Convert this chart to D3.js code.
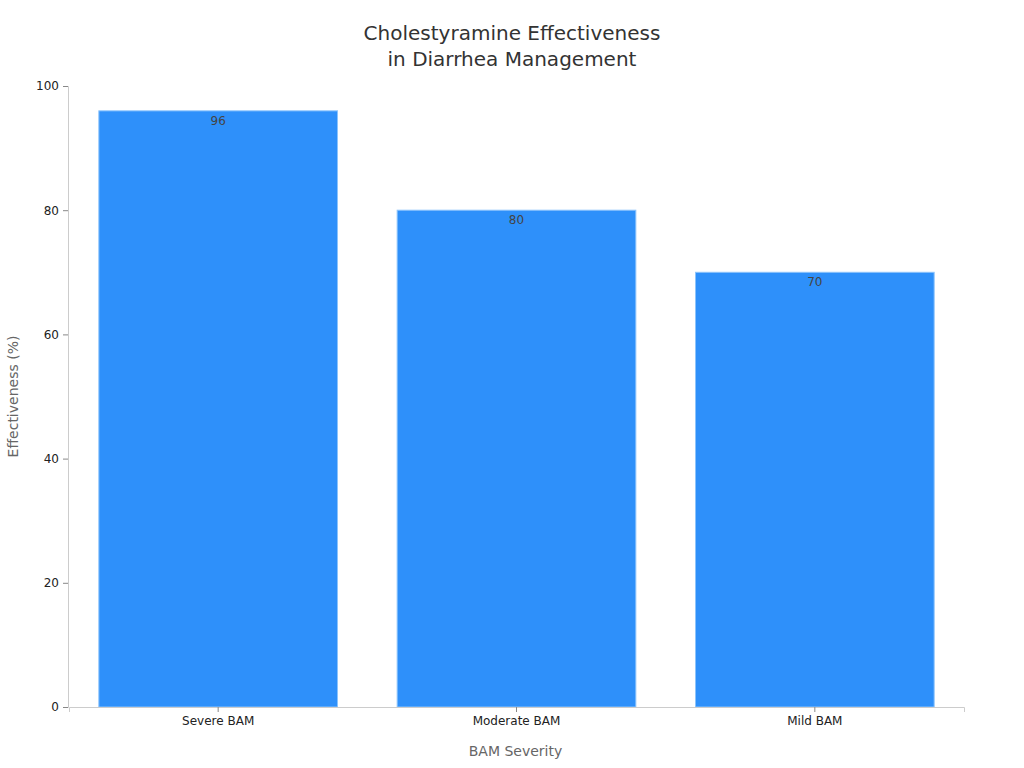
<!DOCTYPE html>
<html><head><meta charset="utf-8">
<script src="https://cdn.jsdelivr.net/npm/d3@7/dist/d3.min.js"></script>
<style>body{margin:0;background:#fff;font-family:"DejaVu Sans",sans-serif;}</style>
</head><body><svg id="c" width="1024" height="768"></svg>
<script>
const categories = ["Severe BAM", "Moderate BAM", "Mild BAM"];
const values = [96, 80, 70];
const yTicks = [0, 20, 40, 60, 80, 100];
const titleLines = ["Cholestyramine Effectiveness", "in Diarrhea Management"];
const xTitle = "BAM Severity";
const yTitle = "Effectiveness (%)";

const svg = d3.select("#c");
const m = {l: 68, r: 61, t: 86, b: 61};
const W = 1024, H = 768;
const x = d3.scaleBand().domain(categories).range([m.l + 1, W - m.r + 1]).paddingInner(0.2).paddingOuter(0.1);
const y = d3.scaleLinear().domain([0, 100]).range([H - m.b, m.t]);

svg.append("g").selectAll("text").data(titleLines).join("text")
  .attr("x", 512).attr("y", (d, i) => 40 + i * 26).attr("text-anchor", "middle")
  .attr("font-size", 20).attr("fill", "#333").text(d => d);

svg.append("g").selectAll("rect").data(values).join("rect")
  .attr("x", (d, i) => x(categories[i])).attr("width", x.bandwidth())
  .attr("y", d => y(d)).attr("height", d => y(0) - y(d))
  .attr("fill", "#2e90fa").attr("stroke", "#8cc4fc").attr("stroke-width", 1);

svg.append("g").selectAll("text").data(values).join("text")
  .attr("x", (d, i) => x(categories[i]) + x.bandwidth() / 2).attr("y", d => y(d) + 14)
  .attr("text-anchor", "middle").attr("font-size", 12).attr("fill", "#444").text(d => d);

const xa = svg.append("g").attr("transform", `translate(0,${y(0)})`)
  .call(d3.axisBottom(x).tickSizeOuter(0).tickSize(5).tickPadding(4));
xa.select(".domain").attr("stroke", "#ccc");
xa.selectAll(".tick line").attr("stroke", "#888");
xa.selectAll("text").attr("font-size", 12).attr("fill", "#222").attr("font-family", "DejaVu Sans");

const ya = svg.append("g").attr("transform", `translate(${m.l},0)`)
  .call(d3.axisLeft(y).tickValues(yTicks).tickSizeOuter(0).tickSize(5).tickPadding(4));
ya.select(".domain").attr("stroke", "#ccc");
ya.selectAll(".tick line").attr("stroke", "#888");
ya.selectAll("text").attr("font-size", 12).attr("fill", "#222").attr("font-family", "DejaVu Sans");

svg.append("text").attr("x", (m.l + W - m.r) / 2).attr("y", 756).attr("text-anchor", "middle")
  .attr("font-size", 14).attr("fill", "#666").text(xTitle);
svg.append("text").attr("transform", `translate(18,${(m.t + H - m.b) / 2}) rotate(-90)`)
  .attr("text-anchor", "middle").attr("font-size", 14).attr("fill", "#666").text(yTitle);
</script></body></html>
